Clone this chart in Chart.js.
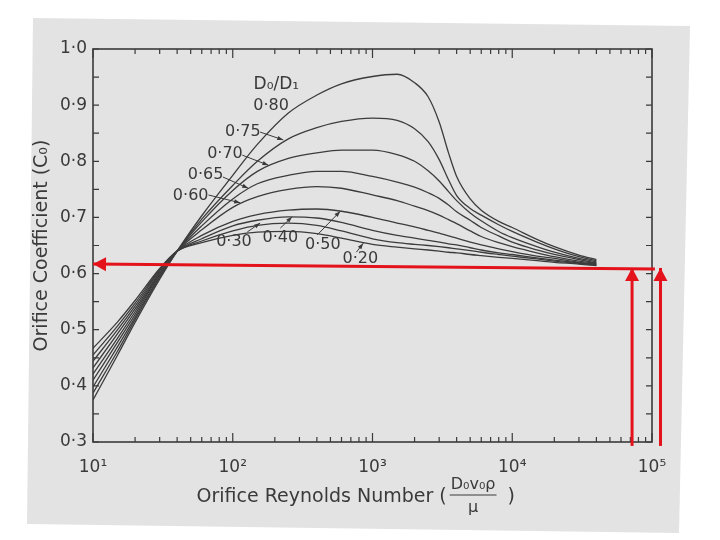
<!DOCTYPE html>
<html><head><meta charset="utf-8">
<script src="https://cdn.jsdelivr.net/npm/chart.js@4.4.1/dist/chart.umd.min.js"></script>
<style>html,body{margin:0;padding:0;background:#fff}canvas{display:block}</style>
</head><body>
<canvas id="c" width="720" height="540"></canvas>
<script>
// ---- data ----
const reynolds = [10,15,20,30,40,60,100,150,250,400,600,1000,1500,2000,2500,3000,3500,4000,5000,6000,8000,10000,15000,20000,30000,40000];
const c080 = [.375,.455,.513,.590,.640,.703,.775,.830,.886,.918,.938,.951,.955,.940,.915,.870,.815,.773,.733,.713,.693,.682,.661,.648,.633,.625];
const c075 = [.387,.462,.518,.593,.640,.697,.757,.800,.840,.860,.871,.877,.873,.858,.835,.803,.767,.739,.716,.704,.687,.675,.656,.644,.630,.623];
const c070 = [.398,.470,.522,.595,.640,.692,.748,.782,.805,.815,.820,.820,.812,.800,.783,.765,.746,.730,.708,.694,.675,.664,.648,.638,.627,.621];
const c065 = [.410,.478,.527,.598,.640,.685,.733,.760,.775,.782,.782,.773,.763,.754,.744,.734,.722,.710,.695,.682,.667,.656,.642,.634,.625,.619];
const c060 = [.421,.485,.532,.600,.640,.678,.718,.737,.750,.755,.752,.740,.730,.720,.712,.704,.696,.689,.676,.666,.655,.648,.637,.630,.622,.618];
const c050 = [.432,.493,.537,.602,.640,.668,.693,.705,.713,.715,.711,.700,.690,.683,.677,.672,.667,.663,.656,.651,.644,.639,.631,.627,.620,.617];
const c040 = [.444,.500,.542,.605,.640,.662,.685,.695,.701,.699,.691,.677,.668,.663,.659,.656,.653,.651,.646,.642,.637,.634,.628,.624,.619,.616];
const c030 = [.455,.507,.547,.607,.640,.658,.676,.686,.690,.686,.676,.662,.655,.652,.650,.648,.646,.644,.641,.638,.634,.631,.626,.622,.618,.615];
const c020 = [.467,.514,.552,.609,.640,.655,.668,.674,.675,.671,.663,.652,.647,.644,.642,.640,.638,.637,.634,.632,.629,.627,.623,.620,.617,.614];
const seriesNames = ['0.80','0.75','0.70','0.65','0.60','0.50','0.40','0.30','0.20'];
const seriesValues = [c080,c075,c070,c065,c060,c050,c040,c030,c020];

const xTickValues = [10,100,1000,10000,100000];
const xTickLabels = ['10¹','10²','10³','10⁴','10⁵'];
const yTickValues = [0.3,0.4,0.5,0.6,0.7,0.8,0.9,1.0];
const yTickLabels = ['0·3','0·4','0·5','0·6','0·7','0·8','0·9','1·0'];

// curve labels (anchored in data coordinates)
const labelTexts = ['D₀/D₁','0·80','0·75','0·70','0·65','0·60','0·30','0·40','0·50','0·20'];
const labelRe    = [205,188,118,88,64,50,102,219,441,818];
const labelC     = [0.936,0.898,0.853,0.813,0.775,0.738,0.657,0.664,0.652,0.627];
const pointerFromRe = [157,117,85,67,127,219,403,766];
const pointerFromC  = [0.852,0.811,0.772,0.740,0.674,0.681,0.669,0.638];
const pointerToRe   = [230,180,129,113,157,266,588,859];
const pointerToC    = [0.838,0.793,0.752,0.726,0.690,0.701,0.711,0.654];

// red reading guide (horizontal arrow + two vertical arrows); last point = arrow tip
const guideRe = [105000, 10];
const guideC  = [0.608, 0.617];
const upArrowRe = [72000, 115000];
const upArrowC  = [0.293, 0.610];

// ---- chart ----
const ink = '#3a3a3a';
const red = '#e3121b';
const FONT = 'DejaVu Sans';

const datasets = seriesNames.map((n, i) => ({
  label: 'D0/D1 = ' + n,
  data: reynolds.map((r, j) => ({x: r, y: seriesValues[i][j]})),
  borderColor: '#3c3c3c', borderWidth: 1.3, pointRadius: 0,
  cubicInterpolationMode: 'monotone', fill: false, order: 1
}));
datasets.push({
  label: 'guide', data: guideRe.map((r, j) => ({x: r, y: guideC[j]})),
  borderColor: red, borderWidth: 3, pointRadius: 0, clip: false, order: -1
});
upArrowRe.forEach(r => datasets.push({
  label: 'arrow', data: upArrowC.map(c => ({x: r, y: c})),
  borderColor: red, borderWidth: 3, pointRadius: 0, clip: false, order: -1
}));

function head(ctx, x1, y1, x2, y2, len, half) {
  const ang = Math.atan2(y2 - y1, x2 - x1);
  const bx = x2 - len * Math.cos(ang), by = y2 - len * Math.sin(ang);
  ctx.beginPath();
  ctx.moveTo(x2, y2);
  ctx.lineTo(bx + half * Math.sin(ang), by - half * Math.cos(ang));
  ctx.lineTo(bx - half * Math.sin(ang), by + half * Math.cos(ang));
  ctx.closePath(); ctx.fill();
}

const paper = {
  id: 'paper',
  beforeDraw(chart) {
    const ctx = chart.ctx;
    ctx.save();
    ctx.fillStyle = '#ffffff';
    ctx.fillRect(0, 0, chart.width, chart.height);
    ctx.fillStyle = '#e3e3e3';
    ctx.beginPath();
    ctx.moveTo(33, 18); ctx.lineTo(690, 26); ctx.lineTo(679, 533); ctx.lineTo(27, 524);
    ctx.closePath(); ctx.fill();
    ctx.restore();
  }
};

const frame = {
  id: 'frame',
  beforeDatasetsDraw(chart) {
    const {ctx, chartArea: a, scales: {x, y}} = chart;
    ctx.save();
    ctx.strokeStyle = ink; ctx.lineWidth = 1.6;
    ctx.strokeRect(a.left, a.top, a.right - a.left, a.bottom - a.top);
    ctx.lineWidth = 1.2;
    ctx.beginPath();
    for (let d = 10; d < 100000; d *= 10) {
      for (let m = 1; m <= 10; m++) {
        const px = x.getPixelForValue(d * m);
        const len = (m === 1 || m === 10) ? 9 : 5;
        ctx.moveTo(px, a.bottom); ctx.lineTo(px, a.bottom - len);
        ctx.moveTo(px, a.top); ctx.lineTo(px, a.top + len);
      }
    }
    for (let k = 0; k <= 14; k++) {
      const py = y.getPixelForValue(0.3 + k * 0.05);
      ctx.moveTo(a.left, py); ctx.lineTo(a.left + 6, py);
      ctx.moveTo(a.right, py); ctx.lineTo(a.right - 6, py);
    }
    ctx.stroke();
    ctx.restore();
  },
  afterDatasetsDraw(chart) {
    const {ctx, chartArea: a, scales: {x, y}} = chart;
    ctx.save();
    // red arrow heads
    ctx.fillStyle = red;
    head(ctx, x.getPixelForValue(guideRe[0]), y.getPixelForValue(guideC[0]),
              x.getPixelForValue(guideRe[1]), y.getPixelForValue(guideC[1]), 13, 7);
    upArrowRe.forEach(r => head(ctx, x.getPixelForValue(r), y.getPixelForValue(upArrowC[0]),
              x.getPixelForValue(r), y.getPixelForValue(upArrowC[1]), 13, 7));
    // curve labels
    ctx.fillStyle = ink; ctx.strokeStyle = ink;
    ctx.textAlign = 'center'; ctx.textBaseline = 'middle';
    labelTexts.forEach((t, i) => {
      ctx.font = (i === 0 ? '17px ' : '16px ') + '"' + FONT + '"';
      ctx.fillText(t, x.getPixelForValue(labelRe[i]), y.getPixelForValue(labelC[i]));
    });
    ctx.lineWidth = 1;
    pointerFromRe.forEach((r, i) => {
      const x1 = x.getPixelForValue(r), y1 = y.getPixelForValue(pointerFromC[i]);
      const x2 = x.getPixelForValue(pointerToRe[i]), y2 = y.getPixelForValue(pointerToC[i]);
      ctx.beginPath(); ctx.moveTo(x1, y1); ctx.lineTo(x2, y2); ctx.stroke();
      head(ctx, x1, y1, x2, y2, 6, 2.2);
    });
    // x-axis title with fraction
    const main = 'Orifice Reynolds Number (';
    const num = 'D₀v₀ρ', den = 'μ', close = ')';
    ctx.font = '19px "' + FONT + '"';
    const wMain = ctx.measureText(main).width, wClose = ctx.measureText(close).width;
    ctx.font = '16px "' + FONT + '"';
    const wNum = ctx.measureText(num).width;
    const total = wMain + 4 + wNum + 12 + wClose;
    let x0 = a.left + (a.right - a.left) * 0.47 - total / 2;
    const ty = a.bottom + 55;
    ctx.textAlign = 'left';
    ctx.font = '19px "' + FONT + '"';
    ctx.fillText(main, x0, ty);
    x0 += wMain + 4;
    ctx.font = '16px "' + FONT + '"';
    ctx.fillText(num, x0, ty - 12);
    ctx.textAlign = 'center';
    ctx.fillText(den, x0 + wNum / 2, ty + 11);
    ctx.beginPath(); ctx.moveTo(x0 - 1, ty - 2); ctx.lineTo(x0 + wNum + 1, ty - 2); ctx.lineWidth = 1; ctx.stroke();
    ctx.textAlign = 'left';
    ctx.font = '19px "' + FONT + '"';
    ctx.fillText(close, x0 + wNum + 12, ty);
    ctx.restore();
  }
};

new Chart(document.getElementById('c'), {
  type: 'line',
  data: {datasets},
  options: {
    responsive: false, animation: false, devicePixelRatio: 1,
    layout: {padding: {top: 49, right: 68, left: 0, bottom: 0}},
    plugins: {legend: {display: false}, tooltip: {enabled: false}},
    scales: {
      x: {
        type: 'logarithmic', min: 10, max: 100000,
        grid: {display: false, drawTicks: false}, border: {display: false},
        afterBuildTicks: s => { s.ticks = xTickValues.map(v => ({value: v, major: true})); },
        afterFit: s => { s.height = 98; },
        ticks: {autoSkip: false, maxRotation: 0, padding: 15, color: ink,
          font: {family: FONT, size: 17},
          callback: (v, i) => xTickLabels[i]}
      },
      y: {
        type: 'linear', min: 0.3, max: 1.0,
        grid: {display: false, drawTicks: false}, border: {display: false},
        afterBuildTicks: s => { s.ticks = yTickValues.map(v => ({value: v})); },
        afterFit: s => { s.width = 93; },
        ticks: {padding: 6, color: ink, font: {family: FONT, size: 17},
          callback: (v, i) => yTickLabels[i]},
        title: {display: true, text: 'Orifice Coefficient (C₀)', color: ink,
          font: {family: FONT, size: 19}, padding: {top: 31, bottom: 0}}
      }
    }
  },
  plugins: [paper, frame]
});
</script>
</body></html>
